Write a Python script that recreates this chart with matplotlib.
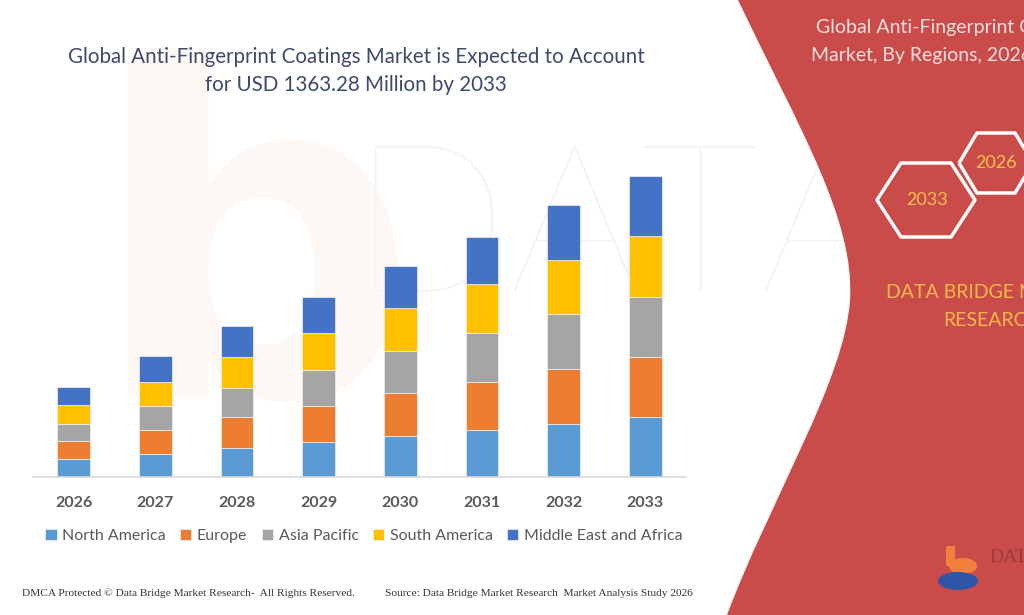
import matplotlib.pyplot as plt
import numpy as np
from matplotlib.path import Path
from matplotlib.patches import PathPatch, Polygon

# values in USD Million
years = ["2026", "2027", "2028", "2029", "2030", "2031", "2032", "2033"]
north_america = [82, 104, 130, 160, 187, 213, 240, 273]
europe = [80, 109, 143, 162, 195, 219, 248, 269]
asia_pacific = [80, 109, 129, 163, 189, 222, 251, 275]
south_america = [83, 110, 143, 169, 193, 219, 245, 275]
mea = [83, 116, 139, 160, 192, 216, 249, 273]

regions = ["North America", "Europe", "Asia Pacific", "South America", "Middle East and Africa"]
colors = ["#5b9bd5", "#ed7d31", "#a5a5a5", "#ffc000", "#4472c4"]

plt.rcParams['font.family'] = ['Lato', 'DejaVu Sans']

fig = plt.figure(figsize=(10.24, 6.15), dpi=100)

# background layer in pixel coordinates
bg = fig.add_axes([0, 0, 1, 1], zorder=0)
bg.set_xlim(0, 1024)
bg.set_ylim(615, 0)
bg.axis("off")

# faint watermark (kept under the red panel)
bg.text(350, 235, "DATA BRIDGE", fontsize=150, color="#f5f5f5", fontweight="light",
        ha="left", va="center", family="Lato", zorder=0.2)
bg.text(90, 270, "b", fontsize=330, color="#fef8f4", fontweight="bold",
        ha="left", va="center", family="DejaVu Sans", zorder=0.1)

# red panel on the right
verts = [(738, 0), (800, 130), (855, 220), (850, 300),
         (845, 380), (770, 500), (727, 615),
         (1024, 615), (1024, 0), (738, 0)]
codes = [Path.MOVETO, Path.CURVE4, Path.CURVE4, Path.CURVE4,
         Path.CURVE4, Path.CURVE4, Path.CURVE4,
         Path.LINETO, Path.LINETO, Path.CLOSEPOLY]
bg.add_patch(PathPatch(Path(verts, codes), facecolor="#c94c4a", edgecolor="none", zorder=1))

bg.text(816, 28, "Global Anti-Fingerprint Coatings", fontsize=14, color="#f6dede",
        ha="left", va="center", zorder=3)
bg.text(811, 55, "Market, By Regions, 2026 to 2033", fontsize=14, color="#f6dede",
        ha="left", va="center", zorder=3)


def hexagon(cx, cy, w, top, h):
    pts = [(cx - w, cy), (cx - top, cy - h), (cx + top, cy - h),
           (cx + w, cy), (cx + top, cy + h), (cx - top, cy + h)]
    bg.add_patch(Polygon(pts, closed=True, facecolor="none", edgecolor="white",
                         linewidth=2.5, joinstyle="round", zorder=2))


hexagon(926, 200, 49, 25, 37)
hexagon(996, 163, 37, 19, 30)
bg.text(927, 200, "2033", fontsize=13, color="#f7c04a", ha="center", va="center", zorder=3)
bg.text(996, 163, "2026", fontsize=13, color="#f7c04a", ha="center", va="center", zorder=3)

bg.text(886, 293, "DATA BRIDGE MARKET", fontsize=14, color="#f6b84a", ha="left",
        va="center", zorder=3)
bg.text(943, 320, "RESEARCH", fontsize=14, color="#f6b84a", ha="left", va="center", zorder=3)

# small logo bottom right
bg.add_patch(Polygon([(946, 546), (955, 546), (955, 566), (946, 566)], closed=True,
                     facecolor="#f0803c", edgecolor="none", zorder=2))
theta = np.linspace(0, 2 * np.pi, 60)
bg.add_patch(Polygon(np.c_[963 + 14 * np.cos(theta), 566 + 8 * np.sin(theta)],
                     facecolor="#f0803c", edgecolor="none", zorder=2))
bg.add_patch(Polygon(np.c_[958 + 20 * np.cos(theta), 581 + 9 * np.sin(theta)],
                     facecolor="#2f56a6", edgecolor="none", zorder=2))
bg.text(989, 558, "DATA", fontsize=14, color="#9a3a3a", ha="left", va="center",
        family="Liberation Serif", zorder=3)

# footer
bg.text(22, 593, "DMCA Protected © Data Bridge Market Research-  All Rights Reserved.",
        fontsize=8.2, color="#333333", ha="left", va="center", family="Liberation Serif")
bg.text(385, 593, "Source: Data Bridge Market Research  Market Analysis Study 2026",
        fontsize=8.2, color="#333333", ha="left", va="center", family="Liberation Serif")

# title
bg.text(356, 57, "Global Anti-Fingerprint Coatings Market is Expected to Account",
        fontsize=14.8, color="#3d4a6b", ha="center", va="center", zorder=3)
bg.text(356, 85, "for USD 1363.28 Million by 2033",
        fontsize=14.8, color="#3d4a6b", ha="center", va="center", zorder=3)

# chart
ax = fig.add_axes([33 / 1024, 1 - 477 / 615, 653 / 1024, 331 / 615], zorder=1)
ax.patch.set_alpha(0)
x = np.arange(len(years))
series = [north_america, europe, asia_pacific, south_america, mea]
bottom = np.zeros(len(years))
for name, vals, c in zip(regions, series, colors):
    ax.bar(x, vals, width=0.4, bottom=bottom, color=c, label=name,
           edgecolor="#f2f2f2", linewidth=0.5)
    bottom += np.array(vals)

ax.set_xlim(-0.5, 7.5)
ax.set_ylim(0, 1500)
ax.set_xticks(x)
ax.set_xticklabels(years, fontsize=11.5, color="#595959", fontweight="bold")
ax.tick_params(axis="x", length=0, pad=14)
ax.set_yticks([])
for s in ["top", "left", "right"]:
    ax.spines[s].set_visible(False)
ax.spines["bottom"].set_color("#d9d9d9")
ax.spines["bottom"].set_linewidth(1.2)

handles, labels = ax.get_legend_handles_labels()
fig.legend(handles, labels, loc="center", bbox_to_anchor=(364 / 1024, 1 - 536 / 615),
           ncol=5, frameon=False, fontsize=11.5, handlelength=0.7, handleheight=0.7,
           handletextpad=0.35, columnspacing=0.9, labelcolor="#595959")

fig.savefig("out.png", dpi=100)
